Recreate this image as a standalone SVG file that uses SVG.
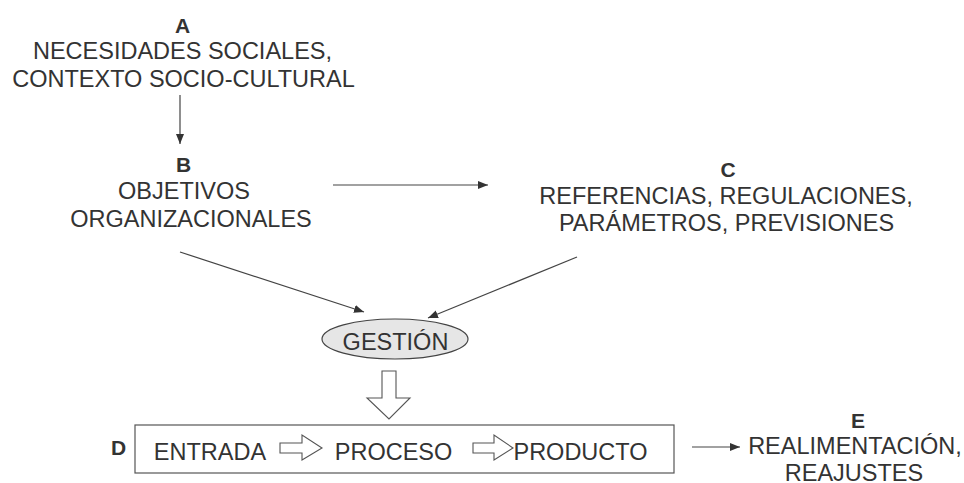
<svg xmlns="http://www.w3.org/2000/svg" width="964" height="483" viewBox="0 0 964 483">
<style>
text{font-family:"Liberation Sans",Arial,sans-serif;fill:#333;text-anchor:middle}
.t{font-size:23.5px}
.h{font-size:21px;font-weight:bold}
.ln{stroke:#444;stroke-width:1.2;fill:none}
.ho{fill:#fff;stroke:#555;stroke-width:1.1}
</style>
<defs>
<marker id="ah" viewBox="0 0 10 10" refX="10" refY="5" markerWidth="10" markerHeight="10" markerUnits="userSpaceOnUse" orient="auto">
<path d="M0,1 L10,5 L0,9 Z" fill="#333"/>
</marker>
</defs>
<rect width="964" height="483" fill="#fff"/>
<g id="nodeA">
<text class="h" x="182.5" y="32.5">A</text>
<text class="t" x="182.5" y="59">NECESIDADES SOCIALES,</text>
<text class="t" x="183.5" y="86.5">CONTEXTO SOCIO-CULTURAL</text>
</g>
<g id="nodeB">
<text class="h" x="183.5" y="171.5">B</text>
<text class="t" x="184" y="199">OBJETIVOS</text>
<text class="t" x="191" y="227">ORGANIZACIONALES</text>
</g>
<g id="nodeC">
<text class="h" x="728" y="176.5">C</text>
<text class="t" x="726" y="204">REFERENCIAS, REGULACIONES,</text>
<text class="t" x="726.5" y="230.5">PARÁMETROS, PREVISIONES</text>
</g>
<g id="gestion">
<ellipse cx="395" cy="339" rx="73" ry="20" fill="#e6e6e6" stroke="#444" stroke-width="1.2"/>
<text class="t" x="395.5" y="350">GESTIÓN</text>
</g>
<g id="nodeD">
<text class="h" x="118.5" y="455">D</text>
<rect x="135" y="425" width="539" height="48" fill="none" stroke="#555" stroke-width="1.2"/>
<text class="t" x="210" y="460">ENTRADA</text>
<text class="t" x="393.5" y="460">PROCESO</text>
<text class="t" x="580.5" y="460">PRODUCTO</text>
</g>
<g id="nodeE">
<text class="h" x="858" y="428">E</text>
<text class="t" x="855" y="454">REALIMENTACIÓN,</text>
<text class="t" x="854" y="480.5">REAJUSTES</text>
</g>
<g id="connectors">
<line class="ln" x1="180" y1="95" x2="180" y2="144" marker-end="url(#ah)"/>
<line class="ln" x1="333" y1="185" x2="488" y2="185" marker-end="url(#ah)"/>
<line class="ln" x1="180" y1="252" x2="364" y2="312" marker-end="url(#ah)"/>
<line class="ln" x1="577" y1="257" x2="428" y2="318" marker-end="url(#ah)"/>
<line class="ln" x1="692" y1="447" x2="740" y2="447" marker-end="url(#ah)"/>
<path class="ho" d="M382,371 H396 V398 H410 L389,419 L367,398 H382 Z"/>
<path class="ho" d="M280,443 H302 V435 L322,448 L302,460 V453 H280 Z"/>
<path class="ho" d="M473,443 H494 V435 L513,448 L494,460 V453 H473 Z"/>
</g>
</svg>
